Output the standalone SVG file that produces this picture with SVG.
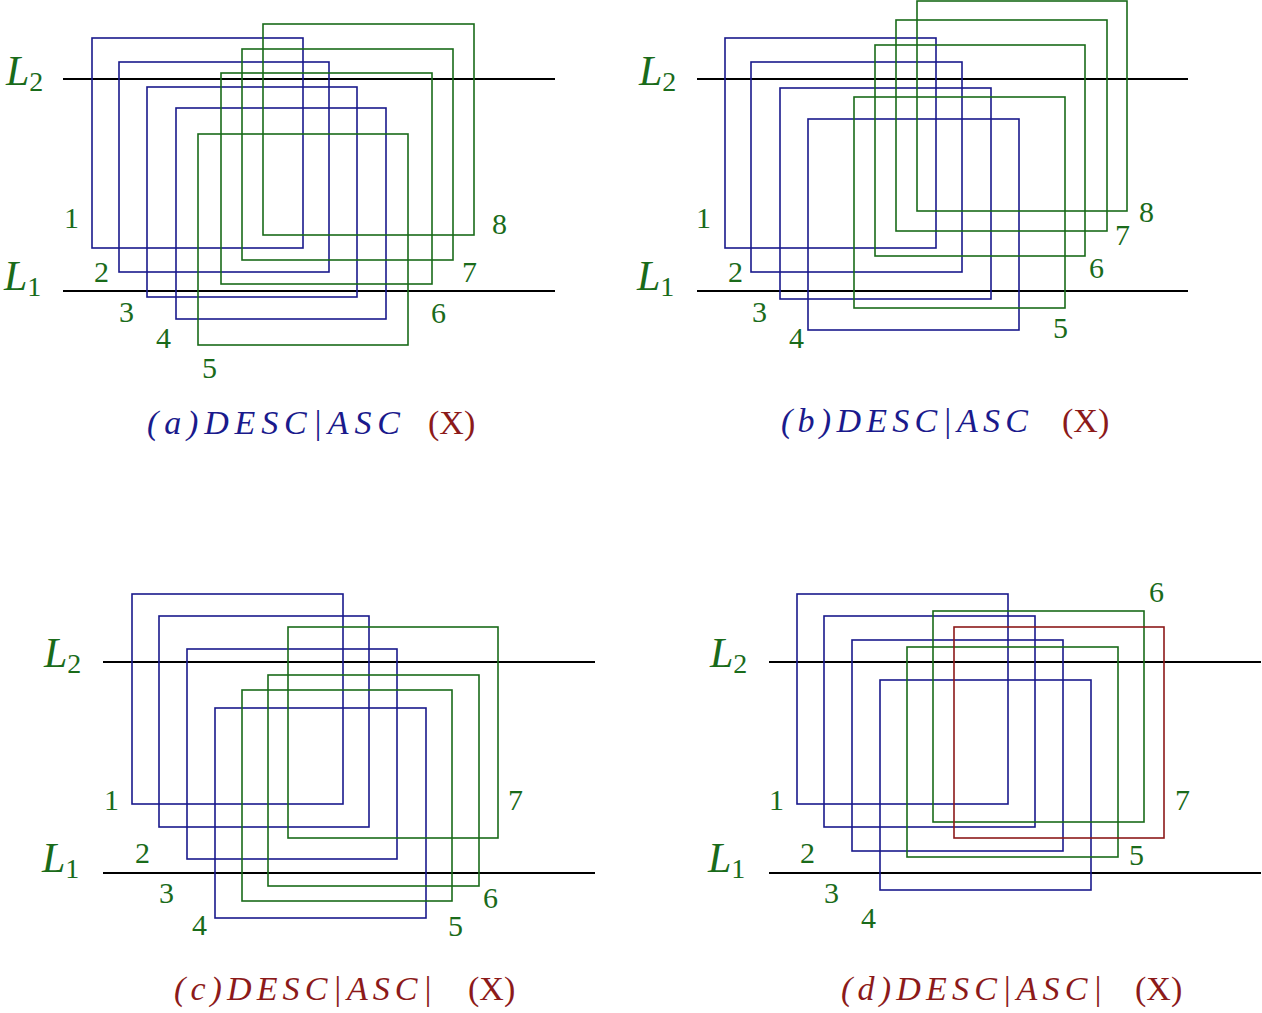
<svg xmlns="http://www.w3.org/2000/svg" width="1262" height="1013" viewBox="0 0 1262 1013">
<style>
.b{fill:none;stroke:#1a1a8c;stroke-width:1.6}
.g{fill:none;stroke:#1a6b1a;stroke-width:1.6}
.r{fill:none;stroke:#8c1a1a;stroke-width:1.6}
.ln{stroke:#000;stroke-width:1.8}
.n{font-family:"Liberation Serif",serif;font-size:30px;fill:#1a6b1a}
.L{font-family:"Liberation Serif",serif;font-size:42px;font-style:italic;fill:#1a6b1a}
.cap{font-family:"Liberation Serif",serif;font-size:34px}
</style>
<rect width="1262" height="1013" fill="#fff"/>
<g id="panel-a">
<line class="ln" x1="63" y1="79" x2="555" y2="79"/><line class="ln" x1="63" y1="291" x2="555" y2="291"/>
<rect class="b" x="92" y="38" width="211" height="210"/>
<rect class="b" x="119" y="62" width="210" height="210"/>
<rect class="b" x="147" y="87" width="210" height="210"/>
<rect class="b" x="176" y="108" width="210" height="211"/>
<rect class="g" x="198" y="134" width="210" height="211"/>
<rect class="g" x="221" y="73" width="211" height="211"/>
<rect class="g" x="242" y="49" width="211" height="211"/>
<rect class="g" x="263" y="24" width="211" height="211"/>
<text class="L" x="6" y="85">L<tspan font-size="28" font-style="normal" dy="6">2</tspan></text>
<text class="L" x="4" y="290">L<tspan font-size="28" font-style="normal" dy="6">1</tspan></text>
<text class="n" x="64" y="228">1</text><text class="n" x="94" y="282">2</text><text class="n" x="119" y="322">3</text><text class="n" x="156" y="348">4</text><text class="n" x="202" y="378">5</text><text class="n" x="431" y="323">6</text><text class="n" x="462" y="282">7</text><text class="n" x="492" y="234">8</text>
<text class="cap" x="147" y="434" fill="#1a1a8c" font-style="italic" textLength="253" lengthAdjust="spacing">(a)DESC|ASC</text>
<text class="cap" x="428" y="434" fill="#8c1a1a">(X)</text>
</g>
<g id="panel-b">
<line class="ln" x1="697" y1="79" x2="1188" y2="79"/><line class="ln" x1="697" y1="291" x2="1188" y2="291"/>
<rect class="b" x="725" y="38" width="211" height="210"/>
<rect class="b" x="751" y="62" width="211" height="210"/>
<rect class="b" x="780" y="88" width="211" height="211"/>
<rect class="b" x="808" y="119" width="211" height="211"/>
<rect class="g" x="854" y="97" width="211" height="211"/>
<rect class="g" x="875" y="45" width="210" height="211"/>
<rect class="g" x="896" y="20" width="211" height="211"/>
<rect class="g" x="917" y="1" width="210" height="210"/>
<text class="L" x="639" y="85">L<tspan font-size="28" font-style="normal" dy="6">2</tspan></text>
<text class="L" x="637" y="290">L<tspan font-size="28" font-style="normal" dy="6">1</tspan></text>
<text class="n" x="696" y="228">1</text><text class="n" x="728" y="282">2</text><text class="n" x="752" y="322">3</text><text class="n" x="789" y="348">4</text><text class="n" x="1053" y="338">5</text><text class="n" x="1089" y="278">6</text><text class="n" x="1115" y="245">7</text><text class="n" x="1139" y="222">8</text>
<text class="cap" x="781" y="432" fill="#1a1a8c" font-style="italic" textLength="247" lengthAdjust="spacing">(b)DESC|ASC</text>
<text class="cap" x="1062" y="432" fill="#8c1a1a">(X)</text>
</g>
<g id="panel-c">
<line class="ln" x1="103" y1="662" x2="595" y2="662"/><line class="ln" x1="103" y1="873" x2="595" y2="873"/>
<rect class="b" x="132" y="594" width="211" height="210"/>
<rect class="b" x="159" y="616" width="210" height="211"/>
<rect class="b" x="187" y="649" width="210" height="210"/>
<rect class="b" x="215" y="708" width="211" height="210"/>
<rect class="g" x="242" y="690" width="210" height="211"/>
<rect class="g" x="268" y="675" width="211" height="211"/>
<rect class="g" x="288" y="627" width="210" height="211"/>
<text class="L" x="44" y="667">L<tspan font-size="28" font-style="normal" dy="6">2</tspan></text>
<text class="L" x="42" y="872">L<tspan font-size="28" font-style="normal" dy="6">1</tspan></text>
<text class="n" x="104" y="810">1</text><text class="n" x="135" y="863">2</text><text class="n" x="159" y="903">3</text><text class="n" x="192" y="935">4</text><text class="n" x="448" y="936">5</text><text class="n" x="483" y="908">6</text><text class="n" x="508" y="810">7</text>
<text class="cap" x="174" y="1000" fill="#8c1a1a" font-style="italic" textLength="258" lengthAdjust="spacing">(c)DESC|ASC|</text>
<text class="cap" x="468" y="1000" fill="#8c1a1a">(X)</text>
</g>
<g id="panel-d">
<line class="ln" x1="769" y1="662" x2="1261" y2="662"/><line class="ln" x1="769" y1="873" x2="1261" y2="873"/>
<rect class="b" x="797" y="594" width="211" height="210"/>
<rect class="b" x="824" y="616" width="211" height="211"/>
<rect class="b" x="852" y="640" width="211" height="211"/>
<rect class="b" x="880" y="680" width="211" height="210"/>
<rect class="g" x="907" y="647" width="211" height="210"/>
<rect class="g" x="933" y="611" width="211" height="211"/>
<rect class="r" x="954" y="627" width="210" height="211"/>
<text class="L" x="710" y="667">L<tspan font-size="28" font-style="normal" dy="6">2</tspan></text>
<text class="L" x="708" y="872">L<tspan font-size="28" font-style="normal" dy="6">1</tspan></text>
<text class="n" x="769" y="810">1</text><text class="n" x="800" y="863">2</text><text class="n" x="824" y="903">3</text><text class="n" x="861" y="928">4</text><text class="n" x="1129" y="865">5</text><text class="n" x="1149" y="602">6</text><text class="n" x="1175" y="810">7</text>
<text class="cap" x="841" y="1000" fill="#8c1a1a" font-style="italic" textLength="261" lengthAdjust="spacing">(d)DESC|ASC|</text>
<text class="cap" x="1135" y="1000" fill="#8c1a1a">(X)</text>
</g>
</svg>
